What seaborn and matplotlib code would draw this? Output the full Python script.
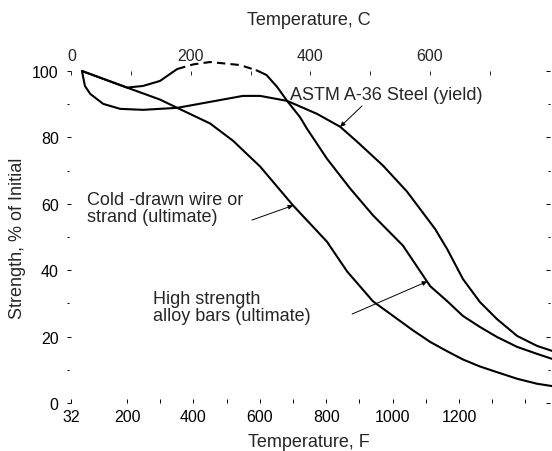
import numpy as np
import pandas as pd
import matplotlib
matplotlib.use("Agg")
import matplotlib.pyplot as plt
import seaborn as sns

# ==========================
# Data (temperature in F, strength in % of initial)
# ==========================
temp_wire = [64, 200, 299, 351, 450, 519, 601, 700, 802, 863, 941, 1061, 1113, 1164, 1212,
             1263, 1314, 1375, 1435, 1480]
strength_wire = [100, 95.0, 91.4, 88.9, 84.2, 79.0, 71.2, 59.5, 48.6, 39.6, 30.6, 21.9, 18.4,
                 15.6, 13.1, 11.0, 9.3, 7.3, 5.8, 5.1]

temp_a36 = [64, 73, 89, 128, 179, 248, 299, 351, 450, 549, 601, 682, 772, 842, 893, 971,
            1043, 1128, 1164, 1212, 1263, 1314, 1375, 1435, 1480]
strength_a36 = [100, 95.5, 93.1, 90.1, 88.6, 88.3, 88.6, 88.9, 90.7, 92.5, 92.5, 91.0, 87.1,
                83.2, 78.7, 71.5, 63.7, 52.4, 46.4, 37.3, 30.4, 25.3, 20.2, 17.2, 15.7]

# high strength alloy bars: solid rise, dashed hump, solid drop
temp_bars_1 = [64, 200, 248, 299, 351]
strength_bars_1 = [100, 95.0, 95.5, 97.0, 100.6]
temp_bars_dash = [351, 400, 450, 540, 590]
strength_bars_dash = [100.6, 102.0, 102.7, 101.8, 100.2]
temp_bars_2 = [590, 620, 652, 682, 721, 742, 802, 872, 941, 1031, 1113, 1164, 1212, 1263,
               1314, 1375, 1435, 1480]
strength_bars_2 = [100.2, 98.8, 95.2, 91.0, 86.1, 82.6, 73.6, 64.6, 56.5, 47.4, 35.2, 30.7,
                   26.2, 22.9, 19.9, 16.9, 14.8, 13.3]

f_ticks = [32, 200, 400, 600, 800, 1000, 1200]
c_ticks = [0, 200, 400, 600]
y_ticks = [0, 20, 40, 60, 80, 100]

# ==========================
# Style
# ==========================
sns.set_style("white")
plt.rcParams["font.family"] = ["Liberation Sans", "DejaVu Sans"]

fig = plt.figure(figsize=(5.52, 4.52), dpi=100)
ax = fig.add_axes([67 / 552, 48 / 452, 483 / 552, 332 / 452])

line_kw = dict(color="black", linewidth=1.5, sort=False, estimator=None, clip_on=False)

def draw(x, y, ax, **extra):
    df = pd.DataFrame({"Temperature": x, "Strength": y})
    sns.lineplot(data=df, x="Temperature", y="Strength", ax=ax, **line_kw, **extra)

draw(temp_wire, strength_wire, ax)
draw(temp_a36, strength_a36, ax)
draw(temp_bars_1, strength_bars_1, ax)
draw(temp_bars_dash, strength_bars_dash, ax, dashes=False, linestyle=(0, (4, 2.5)))
draw(temp_bars_2, strength_bars_2, ax)

ax.set_xlim(19, 1474)
ax.set_ylim(0, 100)

for s in ax.spines.values():
    s.set_visible(False)

# bottom axis (F)
ax.set_xticks(f_ticks)
ax.set_xticks([300, 500, 700, 900, 1100, 1300, 1400], minor=True)
ax.set_yticks(y_ticks)
ax.set_yticks([10, 30, 50, 70, 90], minor=True)
ax.tick_params(axis="both", which="both", direction="in", length=3, width=0.7,
               colors="black", labelsize=11.5)
ax.tick_params(axis="y", which="both", right=True, left=True, pad=6)
ax.tick_params(axis="y", which="minor", length=1.5)
ax.tick_params(axis="x", which="both", bottom=True, pad=4)
ax.set_xlabel("Temperature, F", fontsize=13, labelpad=7)
ax.set_ylabel("Strength, % of Initial", fontsize=13, labelpad=4)

# top axis (C)
sec = ax.secondary_xaxis("top", functions=(lambda f: (f - 32) / 1.8, lambda c: c * 1.8 + 32))
sec.set_xticks(c_ticks)
sec.set_xticks([100, 300, 500, 700], minor=True)
sec.tick_params(axis="x", which="both", direction="in", length=3, width=0.7,
                labelsize=11.5, pad=6)
for s in sec.spines.values():
    s.set_visible(False)
sec.set_xlabel("Temperature, C", fontsize=13, labelpad=17)

# ==========================
# Annotations
# ==========================
arrow = dict(arrowstyle="-|>", color="black", lw=0.7, mutation_scale=7, shrinkA=0, shrinkB=0)

ax.text(691, 92.8, "ASTM A-36 Steel (yield)", fontsize=13, va="center", ha="left")
ax.annotate("", xy=(842, 83.2), xytext=(908, 89.5), arrowprops=arrow)

ax.text(79, 58.7, "Cold -drawn wire or\nstrand (ultimate)", fontsize=13, va="center",
        ha="left", linespacing=1.0)
ax.annotate("", xy=(700, 59.5), xytext=(576, 55.1), arrowprops=arrow)

ax.text(278, 29, "High strength\nalloy bars (ultimate)", fontsize=13, va="center",
        ha="left", linespacing=1.0)
ax.annotate("", xy=(1104, 36.6), xytext=(878, 26.8), arrowprops=arrow)

fig.savefig("out.png", dpi=100)
